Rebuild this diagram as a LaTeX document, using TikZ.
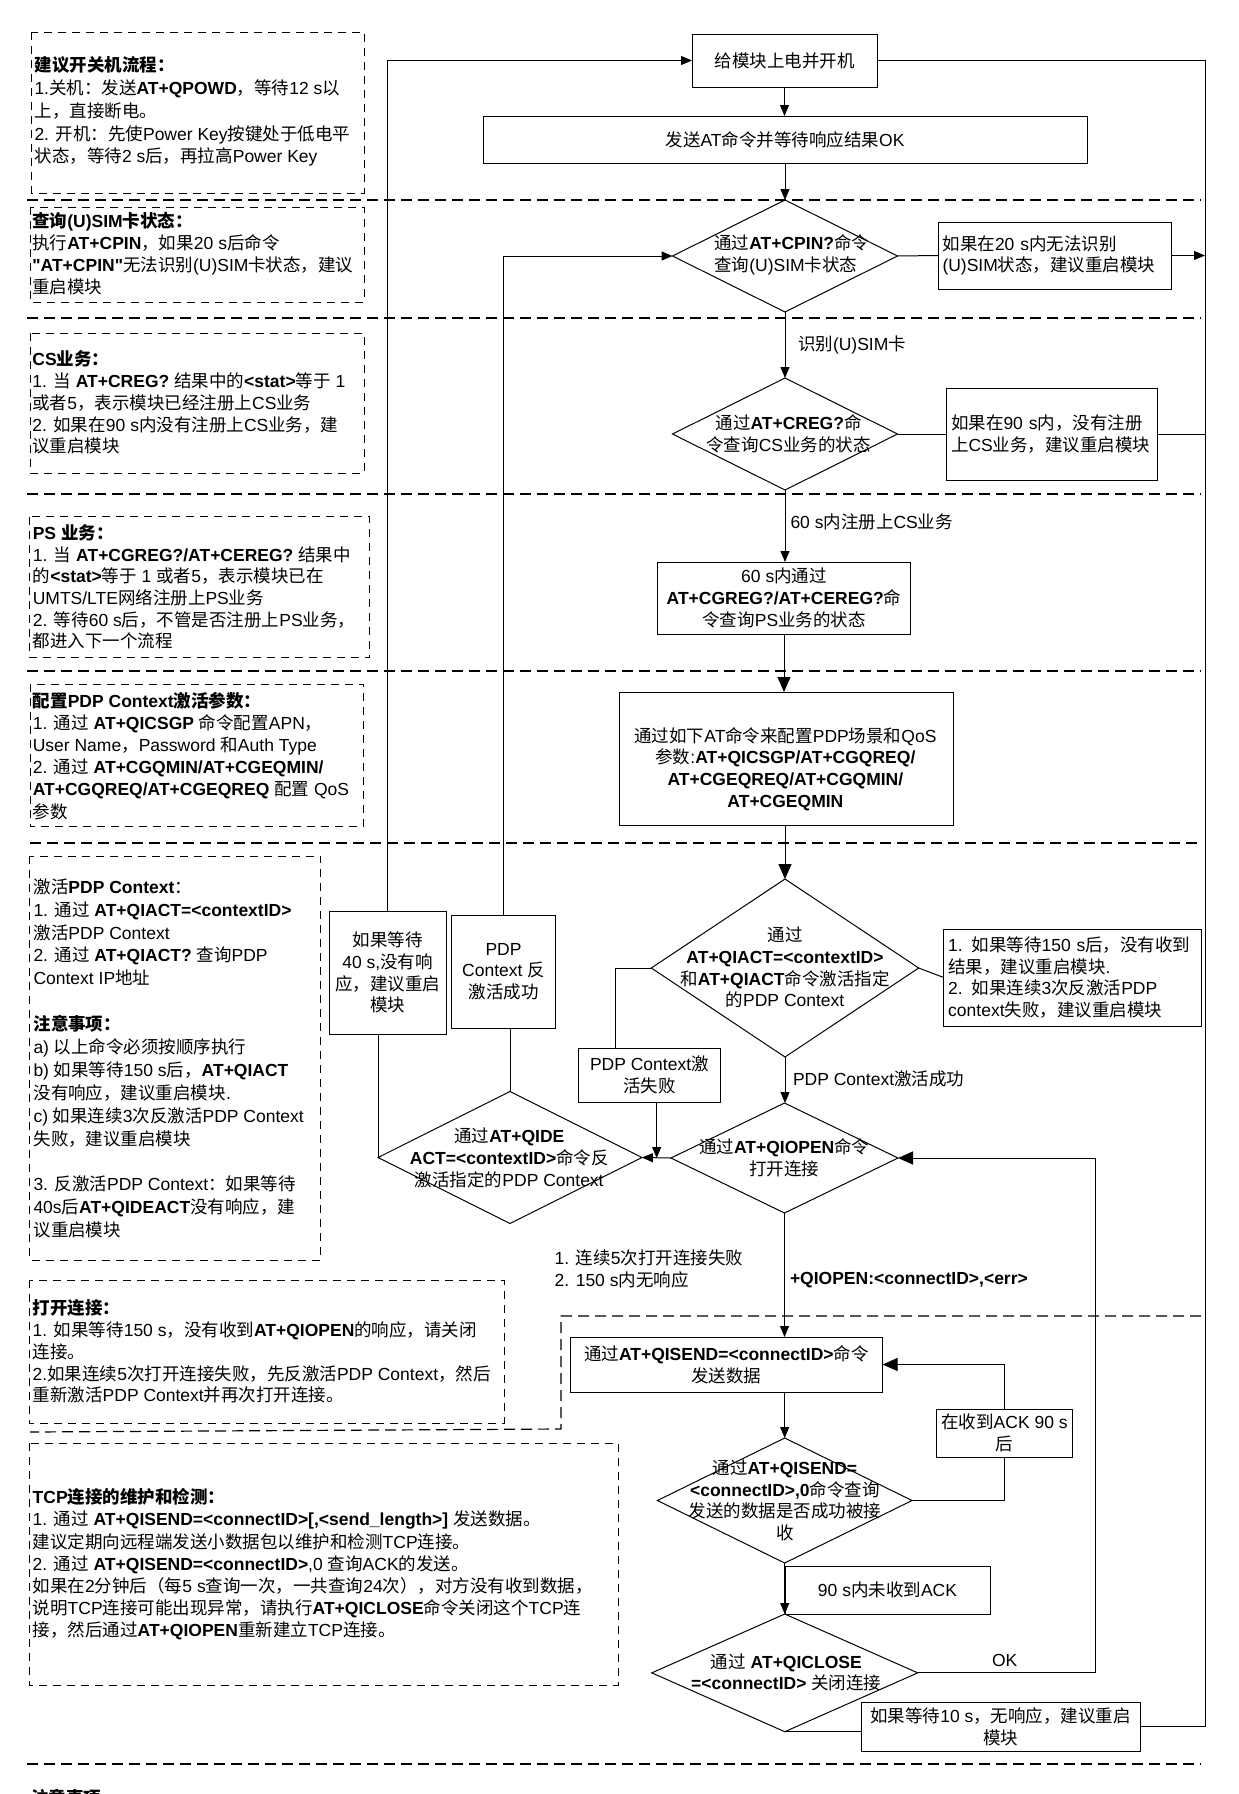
\documentclass[tikz,border=0pt]{standalone}
\usepackage{fontspec}
\setmainfont{Liberation Sans}
\newfontfamily\cjkfont{Noto Sans CJK SC}
\usetikzlibrary{shapes.geometric,arrows.meta}
\chardef\CJKcls=7
\newcount\cjkc
\cjkc="4E00 \loop\XeTeXcharclass\cjkc=\CJKcls\advance\cjkc by 1 \ifnum\cjkc<"A000 \repeat
\cjkc="3000 \loop\XeTeXcharclass\cjkc=\CJKcls\advance\cjkc by 1 \ifnum\cjkc<"3040 \repeat
\cjkc="FF00 \loop\XeTeXcharclass\cjkc=\CJKcls\advance\cjkc by 1 \ifnum\cjkc<"FFF0 \repeat
\XeTeXinterchartoks 0 \CJKcls={\cjkfont}
\XeTeXinterchartoks 4095 \CJKcls={\cjkfont}
\XeTeXinterchartoks \CJKcls 0={\rmfamily}
\XeTeXinterchartoks \CJKcls 4095={\rmfamily}
\XeTeXinterchartokenstate=1
\newcommand{\mybf}[1]{{\bfseries #1}}
\newcommand{\sq}{\XeTeXglyph\XeTeXcharglyph"22\relax}
\begin{document}
\begin{tikzpicture}[x=1pt,y=-1pt,inner sep=0pt,outer sep=0pt,
 ft/.style={font=\fontsize{17.5}{21.7}\selectfont},
 box/.style={draw,line width=1pt,ft,align=center},
 lbox/.style={draw,line width=1pt,ft,align=left,inner xsep=4.5pt},
 dia/.style={draw,diamond,line width=1pt},
 txt/.style={ft,align=center},
 lab/.style={ft,anchor=west},
 note/.style={font=\fontsize{17.5}{#1}\selectfont,align=left,anchor=north west},
 notebox/.style={line width=1pt,dash pattern=on 8pt off 6pt},
 sep/.style={line width=1.2pt,dash pattern=on 11pt off 6pt},
 ln/.style={line width=1pt},
 arr/.style={line width=1pt,-{Triangle[length=11pt,width=9pt]}},
 arrb/.style={line width=1pt,-{Triangle[length=15pt,width=13pt]}},
]
\fill[white] (0,0) rectangle (1239,1794);
\useasboundingbox (0,0) rectangle (1239,1794);

% separators
\draw[sep] (27,200) -- (1201,200);
\draw[sep] (27,318) -- (1201,318);
\draw[sep] (27,494) -- (1201,494);
\draw[sep] (27,671) -- (1201,671);
\draw[sep] (30,843) -- (1201,843);
\draw[sep] (1201,1316) -- (561,1316) -- (561,1429) -- (30,1432);
\draw[sep] (27,1764) -- (1201,1764);

% left note boxes
\draw[notebox] (31.6,32) rectangle (364,193);
\draw[notebox] (30,207) rectangle (364,302);
\draw[notebox] (30,333) rectangle (364,473);
\draw[notebox] (29.6,516.7) rectangle (369.6,657.7);
\draw[notebox] (30,684) rectangle (363.6,826.7);
\draw[notebox] (29.5,856) rectangle (320.5,1260);
\draw[notebox] (29.4,1280) rectangle (504,1423);
\draw[notebox] (29.4,1443) rectangle (618,1685);

\node[note=22.75] (n1) at (34.5,56.8) {\mybf{建议开关机流程：}\\
1.关机：发送\mybf{AT+QPOWD}，等待12 s以\\
上，直接断电。\\
2. 开机：先使Power Key按键处于低电平\\
状态，等待2 s后，再拉高Power Key};

\node[note=22.2] (n2) at (32.4,211.8) {\mybf{查询(U)SIM卡状态：}\\
执行\mybf{AT+CPIN}，如果20 s后命令\\
\mybf{\sq AT+CPIN\sq}无法识别(U)SIM卡状态，建议\\
重启模块};

\node[note=21.75] (n3) at (32.4,350.8) {\mybf{CS业务：}\\
1. 当 \mybf{AT+CREG?} 结果中的\mybf{<stat>}等于 1\\
或者5，表示模块已经注册上CS业务\\
2. 如果在90 s内没有注册上CS业务，建\\
议重启模块};

\node[note=21.6] (n4) at (32.8,524.8) {\mybf{PS 业务：}\\
1. 当 \mybf{AT+CGREG?/AT+CEREG?} 结果中\\
的\mybf{<stat>}等于 1 或者5，表示模块已在\\
UMTS/LTE网络注册上PS业务\\
2. 等待60 s后，不管是否注册上PS业务，\\
都进入下一个流程};

\node[note=22.2] (n5) at (32.8,691.8) {\mybf{配置PDP Context激活参数：}\\
1. 通过 \mybf{AT+QICSGP} 命令配置APN，\\
User Name，Password 和Auth Type\\
2. 通过 \mybf{AT+CGQMIN/AT+CGEQMIN/}\\
\mybf{AT+CGQREQ/AT+CGEQREQ} 配置 QoS\\
参数};

\node[note=22.9] (n6) at (33.5,878.5) {激活\mybf{PDP Context}：\\
1. 通过 \mybf{AT+QIACT=<contextID>}\\
激活PDP Context\\
2. 通过 \mybf{AT+QIACT?} 查询PDP\\
Context IP地址\\[22.9pt]
\mybf{注意事项：}\\
a) 以上命令必须按顺序执行\\
b) 如果等待150 s后，\mybf{AT+QIACT}\\
没有响应，建议重启模块.\\
c) 如果连续3次反激活PDP Context\\
失败，建议重启模块\\[22.9pt]
3. 反激活PDP Context：如果等待\\
40s后\mybf{AT+QIDEACT}没有响应，建\\
议重启模块};

\node[note=21.75] (n7) at (32.7,1299.8) {\mybf{打开连接：}\\
1. 如果等待150 s，没有收到\mybf{AT+QIOPEN}的响应，请关闭\\
连接。\\
2.如果连续5次打开连接失败，先反激活PDP Context，然后\\
重新激活PDP Context并再次打开连接。};

\node[note=22.2] (n8) at (32.7,1488.5) {\mybf{TCP连接的维护和检测：}\\
1. 通过 \mybf{AT+QISEND=<connectID>[,<send\_length>]} 发送数据。\\
建议定期向远程端发送小数据包以维护和检测TCP连接。\\
2. 通过 \mybf{AT+QISEND=<connectID>},0 查询ACK的发送。\\
如果在2分钟后（每5 s查询一次，一共查询24次），对方没有收到数据，\\
说明TCP连接可能出现异常，请执行\mybf{AT+QICLOSE}命令关闭这个TCP连\\
接，然后通过\mybf{AT+QIOPEN}重新建立TCP连接。};

\node[note=22] (n9) at (31,1789) {\mybf{注意事项}};

% flow nodes
\node[box,minimum width=185pt,minimum height=53pt] (A) at (784.5,60.5) {给模块上电并开机};
\node[box,minimum width=604pt,minimum height=47pt] (B) at (785,139.5) {发送AT命令并等待响应结果OK};

\node[dia,minimum width=225pt,minimum height=112pt] (D1) at (785,256) {};
\node[ft,align=left] (D1t) at (791.7,255) {通过\mybf{AT+CPIN?}命令\\查询(U)SIM卡状态};
\node[lbox,text width=224.5pt,minimum height=67pt] (E1) at (1054.75,255.5) {如果在20 s内无法识别\\(U)SIM状态，建议重启模块};

\node[dia,minimum width=225pt,minimum height=112pt] (D2) at (785,434) {};
\node[txt] (D2t) at (788.5,434) {通过\mybf{AT+CREG?}命\\令查询CS业务的状态};
\node[lbox,text width=202.2pt,minimum height=92pt] (E2) at (1052.1,434) {如果在90 s内，没有注册\\上CS业务，建议重启模块};

\node[box,minimum width=253pt,minimum height=72pt] (F) at (784,598) {60 s内通过\\\mybf{AT+CGREG?/AT+CEREG?}命\\令查询PS业务的状态};

\node[draw,line width=1pt,minimum width=334.6pt,minimum height=133pt] (G) at (786.3,758.5) {};
\node[txt] (Gt) at (785.4,769) {通过如下AT命令来配置PDP场景和QoS\\参数:\mybf{AT+QICSGP/AT+CGQREQ/}\\\mybf{AT+CGEQREQ/AT+CGQMIN/}\\\mybf{AT+CGEQMIN}};

\node[dia,minimum width=267.4pt,minimum height=178pt] (D3) at (785,968) {};
\node[txt] (D3t) at (785,967.5) {通过\\\mybf{AT+QIACT=<contextID>}\\和\mybf{AT+QIACT}命令激活指定\\的PDP Context};
\node[lbox,text width=248.8pt,minimum height=97pt] (E3) at (1072.6,977.5) {1. 如果等待150 s后，没有收到\\结果，建议重启模块.\\2. 如果连续3次反激活PDP\\context失败，建议重启模块};

\node[dia,minimum width=227pt,minimum height=110pt] (D4) at (784.5,1158) {};
\node[txt] (D4t) at (784.2,1157.5) {通过\mybf{AT+QIOPEN}命令\\打开连接};

\node[box,minimum width=142.7pt,minimum height=54pt] (H) at (649.35,1075) {PDP Context激\\活失败};
\node[box,minimum width=117pt,minimum height=123pt] (I) at (387.5,972.5) {如果等待\\40 s,没有响\\应，建议重启\\模块};
\node[box,minimum width=104.4pt,minimum height=113pt] (J) at (503.5,971.5) {PDP\\Context 反\\激活成功};

\node[dia,minimum width=263.8pt,minimum height=132pt] (D5) at (510,1157.5) {};
\node[txt] (D5t) at (509.3,1158) {通过\mybf{AT+QIDE}\\\mybf{ACT=<contextID>}命令反\\激活指定的PDP Context};

\node[box,minimum width=312.6pt,minimum height=55pt] (K) at (726.3,1364.5) {通过\mybf{AT+QISEND=<connectID>}命令\\发送数据};

\node[dia,minimum width=254.6pt,minimum height=125pt] (D6) at (784.7,1500.5) {};
\node[txt] (D6t) at (784.9,1500.3) {通过\mybf{AT+QISEND=}\\\mybf{<connectID>,0}命令查询\\发送的数据是否成功被接\\收};

\node[box,minimum width=135.2pt,minimum height=48pt] (L) at (1004.4,1433) {在收到ACK 90 s\\后};
\node[box,minimum width=205pt,minimum height=48pt] (M) at (887.5,1590) {90 s内未收到ACK};

\node[dia,minimum width=265.9pt,minimum height=117.7pt] (D7) at (784.75,1672.85) {};
\node[txt] (D7t) at (786.3,1672.4) {通过 \mybf{AT+QICLOSE}\\\mybf{=<connectID>} 关闭连接};

\node[box,minimum width=278.6pt,minimum height=49pt] (N) at (1000.7,1726.5) {如果等待10 s，无响应，建议重启\\模块};

% labels
\node[lab] (l1) at (798,345) {识别(U)SIM卡};
\node[lab] (l2) at (790.5,522) {60 s内注册上CS业务};
\node[lab] (l3) at (793,1079) {PDP Context激活成功};
\node[ft,align=left,anchor=west] (l4) at (554.7,1269) {1. 连续5次打开连接失败\\2. 150 s内无响应};
\node[lab] (l5) at (790,1280) {\mybf{+QIOPEN:<connectID>,<err>}};
\node[lab] (l6) at (992,1660) {OK};

% helper coordinates
\coordinate (R) at (1205,60.5);
\coordinate (Q) at (1095,1158);
\coordinate (HQ) at (615,968);
\coordinate (HB) at (656.7,1158);

% connectors
\draw[arr] (A.south) -- (A.south |- B.north);
\draw[arr] (B.south) -- (B.south |- D1.north);
\draw[ln] (D1.east) -- (E1.west);
\draw[arr] (E1.east) -- (E1.east -| R);
\draw[arr] (D1.south) -- (D2.north);
\draw[ln] (D2.east) -- (D2.east -| E2.west);
\draw[ln] (E2.east) -- (E2.east -| R);
\draw[arr] (D2.south) -- (D2.south |- F.north);
\draw[arrb] (F.south) -- (F.south |- G.north);
\draw[arrb] (D3.north |- G.south) -- (D3.north);
\draw[ln] (D3.east) -- (E3.west);
\draw[arr] (D3.south) -- (D3.south |- D4.north);
\draw[ln] (D3.west) -- (HQ) -- (HQ |- H.north);
\draw[arr] (HB |- H.south) -- (HB);
\draw[arr] (D4.west) -- (D5.east);
\draw[ln] (D5.north) -- (D5.north |- J.south);
\draw[arr] (J.north) |- (D1.west);
\draw[ln] (D5.west |- I.south) -- (D5.west);
\draw[arr] (I.north) |- (A.west);
\draw[arr] (D4.south) -- (D4.south |- K.north);
\draw[arr] (D6.north |- K.south) -- (D6.north);
\draw[ln] (D6.east) -| (L.south);
\draw[arrb] (L.north) |- (K.east);
\draw[arr] (D6.south) -- (D7.north);
\draw[arrb] (D7.east) -| (Q) -- (D4.east);
\draw[ln] (D7.south) -- (D7.south -| N.west);
\draw[ln] (N.east) -| (R) -- (A.east);
\end{tikzpicture}
\end{document}
